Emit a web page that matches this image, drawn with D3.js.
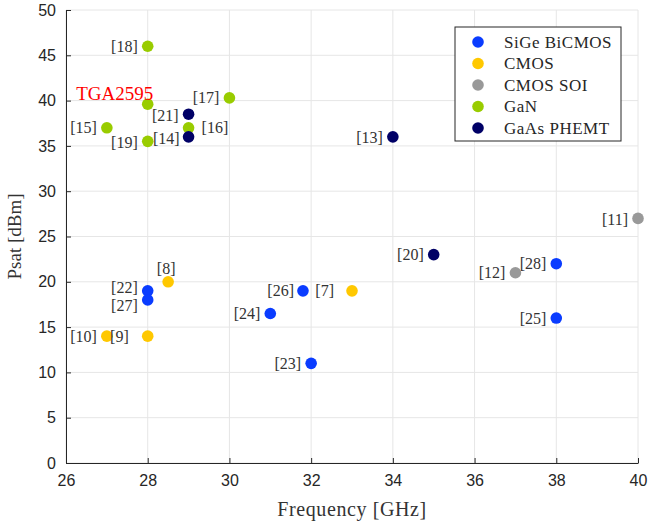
<!DOCTYPE html>
<html>
<head>
<meta charset="utf-8">
<script src="https://cdn.jsdelivr.net/npm/d3@7"></script>
<style>
  body { margin: 0; background: #fff; }
  svg { display: block; }
</style>
</head>
<body>
<div id="chart"></div>
<script>
// technology groups, in legend order
const techs = ["SiGe BiCMOS", "CMOS", "CMOS SOI", "GaN", "GaAs PHEMT"];
const techColors = ["#0a3cff", "#ffc800", "#999999", "#99cc00", "#000066"];

// one entry per design: reference label, technology, frequency (GHz), Psat (dBm)
const refs  = ["[18]", "TGA2595", "[17]", "[21]", "[16]", "[14]", "[15]", "[19]", "[13]",
               "[11]", "[20]", "[12]", "[28]", "[25]", "[22]", "[27]", "[8]", "[10]",
               "[9]", "[26]", "[24]", "[23]", "[7]"];
const tech  = ["GaN", "GaN", "GaN", "GaAs PHEMT", "GaN", "GaAs PHEMT", "GaN", "GaN", "GaAs PHEMT",
               "CMOS SOI", "GaAs PHEMT", "CMOS SOI", "SiGe BiCMOS", "SiGe BiCMOS", "SiGe BiCMOS",
               "SiGe BiCMOS", "CMOS", "CMOS", "CMOS", "SiGe BiCMOS", "SiGe BiCMOS", "SiGe BiCMOS", "CMOS"];
const freq  = [28, 28, 30, 29, 29, 29, 27, 28, 34, 40, 35, 37, 38, 38, 28, 28, 28.5, 27, 28, 31.8, 31, 32, 33];
const psat  = [46, 39.6, 40.3, 38.5, 37, 36, 37, 35.5, 36, 27, 23, 21, 22, 16, 19, 18, 20, 14, 14, 19, 16.5, 11, 19];

const xTicks = [26, 28, 30, 32, 34, 36, 38, 40];
const yTicks = [0, 5, 10, 15, 20, 25, 30, 35, 40, 45, 50];

// label placement relative to the marker: [dx, dy, anchor]
const labelPos = {
  "[18]": [-10, 0, "end"], "TGA2595": [-33, -11, "middle"], "[17]": [-10, 0, "end"],
  "[21]": [-10, 1, "end"], "[16]": [13, 0, "start"], "[14]": [-9, 2, "end"],
  "[15]": [-10, 0, "end"], "[19]": [-10, 1, "end"], "[13]": [-10, 1, "end"],
  "[11]": [-10, 1, "end"], "[20]": [-10, 0, "end"], "[12]": [-10, 0, "end"],
  "[28]": [-10, 0, "end"], "[25]": [-10, 0, "end"], "[22]": [-10, -3, "end"],
  "[27]": [-10, 5, "end"], "[8]": [-2, -13, "middle"], "[10]": [-10, 0, "end"],
  "[9]": [-19, 0, "end"], "[26]": [-9, 0, "end"], "[24]": [-10, 0, "end"],
  "[23]": [-10, 0, "end"], "[7]": [-18, 0, "end"]
};

const W = 661, H = 523;
const margin = {top: 10, right: 23, bottom: 60, left: 66};
const width = W - margin.left - margin.right,
      height = H - margin.top - margin.bottom;

const svg = d3.select("#chart").append("svg")
    .attr("width", W).attr("height", H);
const g = svg.append("g")
    .attr("transform", `translate(${margin.left},${margin.top})`);

const x = d3.scaleLinear().domain([26, 40]).range([0, width]);
const y = d3.scaleLinear().domain([0, 50]).range([height, 0]);
const color = d3.scaleOrdinal().domain(techs).range(techColors);

// grid
g.append("g").selectAll("line").data(xTicks).join("line")
    .attr("x1", d => x(d)).attr("x2", d => x(d))
    .attr("y1", 0).attr("y2", height)
    .attr("stroke", "#e6e6e6").attr("stroke-width", 1);
g.append("g").selectAll("line").data(yTicks).join("line")
    .attr("x1", 0).attr("x2", width)
    .attr("y1", d => y(d)).attr("y2", d => y(d))
    .attr("stroke", "#e6e6e6").attr("stroke-width", 1);

// axes, ticks pointing inward like matlab
const xAxis = g.append("g")
    .attr("transform", `translate(0,${height})`)
    .call(d3.axisBottom(x).tickValues(xTicks).tickSizeInner(-5).tickSizeOuter(0).tickPadding(12));
const yAxis = g.append("g")
    .call(d3.axisLeft(y).tickValues(yTicks).tickSizeInner(-5).tickSizeOuter(0).tickPadding(10));
[xAxis, yAxis].forEach(a => {
  a.select(".domain").attr("stroke", "#262626").attr("stroke-width", 1);
  a.selectAll(".tick line").attr("stroke", "#262626");
  a.selectAll(".tick text")
    .attr("fill", "#262626")
    .style("font-family", "'Liberation Sans', Arial, sans-serif")
    .style("font-size", "16px");
});

// points
const pts = refs.map((r, i) => ({ref: r, tech: tech[i], f: freq[i], p: psat[i]}));
g.append("g").selectAll("circle").data(pts).join("circle")
    .attr("cx", d => x(d.f)).attr("cy", d => y(d.p))
    .attr("r", 5.8)
    .attr("fill", d => color(d.tech));

// point labels
g.append("g").selectAll("text").data(pts).join("text")
    .attr("x", d => x(d.f) + labelPos[d.ref][0])
    .attr("y", d => y(d.p) + labelPos[d.ref][1])
    .attr("dy", "0.35em")
    .attr("text-anchor", d => labelPos[d.ref][2])
    .attr("fill", d => d.ref === "TGA2595" ? "#ff0000" : "#333333")
    .style("font-family", "'Liberation Serif', 'Times New Roman', serif")
    .style("font-size", d => d.ref === "TGA2595" ? "19px" : "16px")
    .text(d => d.ref);

// axis titles
g.append("text")
    .attr("x", width / 2).attr("y", height + 53)
    .attr("text-anchor", "middle")
    .attr("fill", "#333")
    .style("font-family", "'Liberation Serif', serif")
    .style("font-size", "20px")
    .style("letter-spacing", "0.6px")
    .text("Frequency [GHz]");
g.append("text")
    .attr("transform", `translate(-45,${height / 2}) rotate(-90)`)
    .attr("text-anchor", "middle")
    .attr("fill", "#333")
    .style("font-family", "'Liberation Serif', serif")
    .style("font-size", "19px")
    .text("Psat [dBm]");

// legend
const legend = svg.append("g").attr("transform", "translate(455,27)");
legend.append("rect")
    .attr("width", 166).attr("height", 114)
    .attr("fill", "#fff").attr("stroke", "#262626").attr("stroke-width", 1);
const items = legend.selectAll("g.item").data(techs).join("g")
    .attr("class", "item")
    .attr("transform", (d, i) => `translate(0,${15 + i * 21.5})`);
items.append("circle")
    .attr("cx", 23).attr("cy", 0).attr("r", 5.8)
    .attr("fill", d => color(d));
items.append("text")
    .attr("x", 49).attr("y", 0).attr("dy", "0.35em")
    .attr("fill", "#262626")
    .style("font-family", "'Liberation Serif', serif")
    .style("font-size", "17px")
    .style("letter-spacing", "0.5px")
    .text(d => d);
</script>
</body>
</html>
